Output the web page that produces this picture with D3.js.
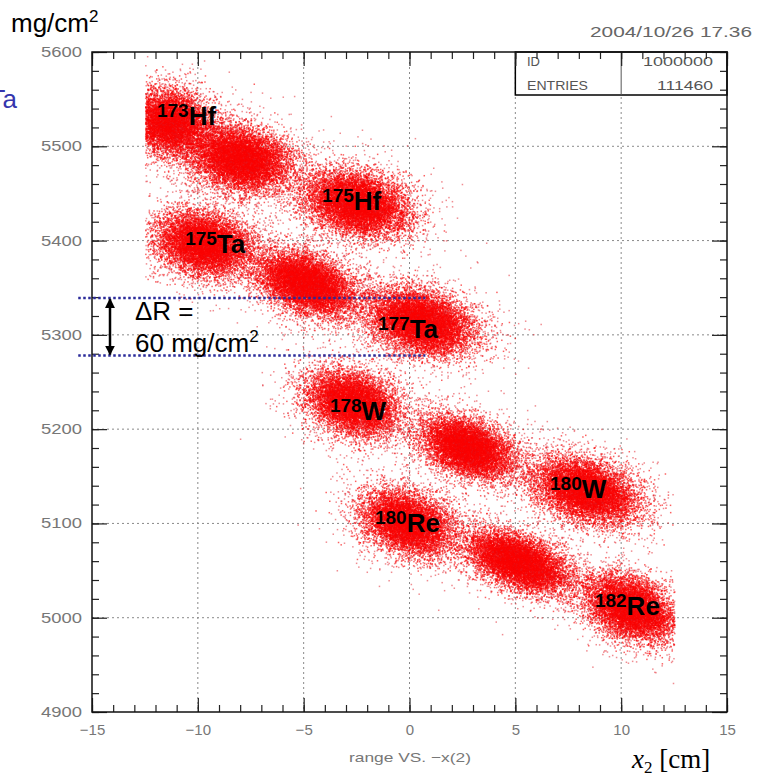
<!DOCTYPE html>
<html lang="en">
<head>
<meta charset="UTF-8">
<title>range vs x2</title>
<style>
  body{ margin:0; background:white; }
  svg text{ font-family:"Liberation Sans", Arial, sans-serif; }
</style>
</head>
<body>
<script src="https://d3js.org/d3.v7.min.js"></script>
<script>
// cluster centres (x2 in cm, range in mg/cm2), spreads and event counts
var names   = ["173Hf","174Hf","175Hf","175Ta","176Ta","177Ta","178W","179W","180W","180Re","181Re","182Re"];
var centerX = [-11.4, -8.0, -2.5, -9.75, -4.9, 0.5, -2.7, 2.7, 8.3, -0.1, 5.1, 10.4];
var centerY = [5526, 5487, 5440, 5397, 5355, 5314, 5228, 5181, 5136, 5101, 5060, 5011];
var sigmaX  = [0.95, 1.1, 1.15, 1.05, 1.1, 1.15, 1.0, 1.0, 1.15, 1.0, 1.1, 1.0];
var sigmaY  = [16, 16, 16, 16, 16, 16, 16, 15, 16, 16, 15, 16];
var rho     = [-0.15, -0.2, -0.25, -0.2, -0.4, -0.3, -0.25, -0.4, -0.35, -0.3, -0.5, -0.35];
var counts  = [8200, 9800, 9600, 9000, 9800, 10200, 8800, 9400, 9600, 8600, 9800, 8660];
var xCut = 12.5;

// isotope labels: mass number, element, anchor (x2, range)
var labMass = ["173","175","175","177","178","180","180","182"];
var labElem = ["Hf","Hf","Ta","Ta","W","W","Re","Re"];
var labX    = [-11.93, -4.13, -10.6, -1.49, -3.76, 6.64, -1.63, 8.76];
var labY    = [5522.6, 5432.5, 5387, 5297, 5210, 5127, 5091, 5003];

var xMajor = [-15,-10,-5,0,5,10,15];
var yMajor = [4900,5000,5100,5200,5300,5400,5500,5600];
var dR = [5339, 5278];

var W = 761, H = 779;
var x = d3.scaleLinear().domain([-15,15]).range([92,727]);
var y = d3.scaleLinear().domain([4900,5600]).range([712,52]);

var svg = d3.select("body").append("svg").attr("width",W).attr("height",H);

// grid
var grid = svg.append("g").attr("stroke","#8a8a8a").attr("stroke-dasharray","2,3").attr("stroke-width",1);
grid.selectAll(".gx").data(xMajor.slice(1,-1)).enter().append("line")
    .attr("x1",function(d){return x(d)}).attr("x2",function(d){return x(d)})
    .attr("y1",y(5600)).attr("y2",y(4900));
grid.selectAll(".gy").data(yMajor.slice(1,-1)).enter().append("line")
    .attr("y1",function(d){return y(d)}).attr("y2",function(d){return y(d)})
    .attr("x1",x(-15)).attr("x2",x(15));

// events drawn into a canvas, put into the svg as an image
var cv = document.createElement("canvas");
cv.width = W; cv.height = H;
var ctx = cv.getContext("2d");
var rnd = d3.randomNormal.source(d3.randomLcg(0.2718))(0,1);
names.forEach(function(n,i){
    var r = rho[i], q = Math.sqrt(1-r*r);
    for(var k=0;k<counts[i];k++){
        var wide = k % 5 == 0 ? 1.5 : 1;
        var z1 = rnd(), z2 = rnd();
        var vx = centerX[i] + sigmaX[i]*wide*z1;
        var vy = centerY[i] + sigmaY[i]*wide*(r*z1 + q*z2);
        if(Math.abs(vx) > xCut || vy < 4900 || vy > 5600) continue;
        ctx.fillStyle = wide > 1 ? "rgba(225,25,35,0.5)" : "rgba(250,0,0,0.62)";
        ctx.fillRect(x(vx), y(vy), 1.5, 1.5);
    }
});
svg.append("image").attr("x",0).attr("y",0).attr("width",W).attr("height",H)
    .attr("href", cv.toDataURL());

// stats box
svg.append("rect").attr("x",x(5)).attr("y",y(5600)).attr("width",x(15)-x(5)).attr("height",95-y(5600))
    .attr("fill","white").attr("stroke","black").attr("stroke-width",1.5);
svg.append("line").attr("x1",x(10)).attr("x2",x(10)).attr("y1",y(5600)).attr("y2",95)
    .attr("stroke","#555").attr("stroke-width",1);
var st = svg.append("g").attr("fill","#555").style("font-size","13px");
st.append("text").attr("x",527).attr("y",66).text("ID");
st.append("text").attr("x",713).attr("y",66).attr("text-anchor","end")
    .attr("textLength",70).attr("lengthAdjust","spacingAndGlyphs").text("1000000");
st.append("text").attr("x",527).attr("y",90).attr("textLength",61).attr("lengthAdjust","spacingAndGlyphs").text("ENTRIES");
st.append("text").attr("x",713).attr("y",90).attr("text-anchor","end")
    .attr("textLength",56).attr("lengthAdjust","spacingAndGlyphs").text("111460");

// axes, ticks inward on every side
var minX = d3.range(-15,16,1), minY = d3.range(4900,5601,20);
function styleAxis(g){
    g.select(".domain").remove();
    g.selectAll("line").attr("stroke","#222").attr("stroke-width",1.2);
}
svg.append("g").attr("transform","translate(0,"+y(4900)+")")
    .call(d3.axisBottom(x).tickValues(minX).tickSize(-7).tickFormat("")).call(styleAxis);
svg.append("g").attr("transform","translate(0,"+y(5600)+")")
    .call(d3.axisTop(x).tickValues(minX).tickSize(-7).tickFormat("")).call(styleAxis);
svg.append("g").attr("transform","translate("+x(-15)+",0)")
    .call(d3.axisLeft(y).tickValues(minY).tickSize(-7).tickFormat("")).call(styleAxis);
svg.append("g").attr("transform","translate("+x(15)+",0)")
    .call(d3.axisRight(y).tickValues(minY).tickSize(-7).tickFormat("")).call(styleAxis);

var xb = svg.append("g").attr("transform","translate(0,"+y(4900)+")")
    .call(d3.axisBottom(x).tickValues(xMajor).tickSize(-14).tickPadding(12)).call(styleAxis);
xb.selectAll("text").attr("fill","#777").style("font-size","15px").style("font-family","Liberation Sans");
var yl = svg.append("g").attr("transform","translate("+x(-15)+",0)")
    .call(d3.axisLeft(y).tickValues(yMajor).tickSize(-15).tickPadding(10).tickFormat(d3.format("d"))).call(styleAxis);
yl.selectAll("text").attr("fill","#777").style("font-size","14px").style("font-family","Liberation Sans")
    .attr("textLength",41).attr("lengthAdjust","spacingAndGlyphs");
svg.append("g").attr("transform","translate(0,"+y(5600)+")")
    .call(d3.axisTop(x).tickValues(xMajor).tickSize(-14).tickFormat("")).call(styleAxis);
svg.append("g").attr("transform","translate("+x(15)+",0)")
    .call(d3.axisRight(y).tickValues(yMajor).tickSize(-15).tickFormat("")).call(styleAxis);

// frame
svg.append("rect").attr("x",x(-15)).attr("y",y(5600)).attr("width",x(15)-x(-15)).attr("height",y(4900)-y(5600))
    .attr("fill","none").attr("stroke","#111").attr("stroke-width",1.5);

// isotope labels
var lab = svg.selectAll(".iso").data(labMass).enter().append("text")
    .attr("class","iso").attr("x",function(d,i){return x(labX[i])}).attr("y",function(d,i){return y(labY[i])})
    .style("font-weight","bold").attr("fill","black");
lab.append("tspan").style("font-size","19px").attr("dy",-8).text(function(d){return d});
lab.append("tspan").style("font-size","26px").attr("dy",8).text(function(d,i){return labElem[i]});

// delta R marker
var blue = "#2b2b9a";
svg.selectAll(".dr").data(dR).enter().append("line")
    .attr("x1",x(-15.65)).attr("x2",x(0.75))
    .attr("y1",function(d){return y(d)}).attr("y2",function(d){return y(d)})
    .attr("stroke",blue).attr("stroke-width",2.5).attr("stroke-dasharray","2.5,2.5");
var defs = svg.append("defs");
defs.append("marker").attr("id","ah").attr("viewBox","0 0 10 10").attr("refX",9).attr("refY",5)
    .attr("markerWidth",4).attr("markerHeight",5).attr("orient","auto-start-reverse")
    .append("path").attr("d","M0,0 L10,5 L0,10 z").attr("fill","black");
svg.append("line").attr("x1",110).attr("x2",110).attr("y1",y(dR[0])+1).attr("y2",y(dR[1])-1)
    .attr("stroke","black").attr("stroke-width",2.5)
    .attr("marker-start","url(#ah)").attr("marker-end","url(#ah)");
svg.append("text").attr("x",135).attr("y",320).style("font-size","26px").text("\u0394R =");
var t60 = svg.append("text").attr("x",135).attr("y",352).style("font-size","26px");
t60.append("tspan").text("60 mg/cm");
t60.append("tspan").style("font-size","17px").attr("dy",-10).text("2");

// outer texts
var unit = svg.append("text").attr("x",11).attr("y",32).style("font-size","26px").attr("fill","black");
unit.append("tspan").text("mg/cm");
unit.append("tspan").style("font-size","17px").attr("dy",-10).text("2");
svg.append("text").attr("x",17).attr("y",108).attr("text-anchor","end").style("font-size","26px")
    .attr("fill","#3535ad").text("Ta");
svg.append("text").attr("x",590).attr("y",37).attr("fill","#666").style("font-size","14px")
    .attr("textLength",162).attr("lengthAdjust","spacingAndGlyphs").text("2004/10/26  17.36");
svg.append("text").attr("x",349).attr("y",762).attr("fill","#777").style("font-size","13px")
    .attr("textLength",122).attr("lengthAdjust","spacingAndGlyphs").text("range VS. \u2212x(2)");
var xt = svg.append("text").attr("x",632).attr("y",768).style("font-family","Liberation Serif")
    .style("font-size","27px").attr("fill","black");
xt.append("tspan").style("font-style","italic").text("x");
xt.append("tspan").style("font-size","17px").attr("dy",5).text("2");
xt.append("tspan").attr("dy",-5).text(" [cm]");
</script>
</body>
</html>
